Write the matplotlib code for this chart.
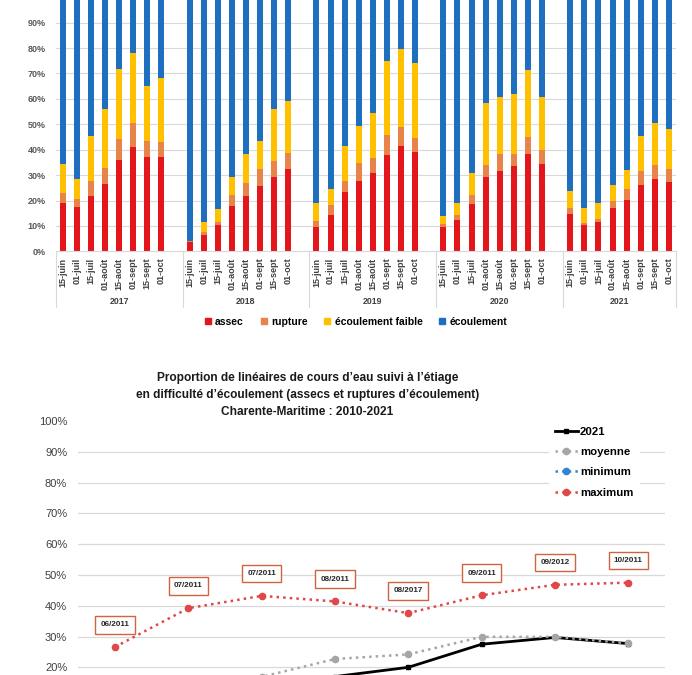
import matplotlib
matplotlib.use("Agg")
import matplotlib.pyplot as plt
import matplotlib.transforms as mtransforms
from matplotlib.patches import Patch
import numpy as np

plt.rcParams["font.family"] = ["Liberation Sans", "DejaVu Sans"]

# --- top chart: stacked bars, one group of 8 dates per year ---
years = ["2017", "2018", "2019", "2020", "2021"]
dates = ["15-juin", "01-juil", "15-juil", "01-août", "15-août", "01-sept", "15-sept", "01-oct"]

assec = [
    [19.2, 17.3, 21.7, 26.5, 36.1, 41.1, 37.3, 37.0],
    [3.5, 6.3, 10.5, 18.0, 21.9, 25.9, 29.4, 32.4],
    [9.7, 14.3, 23.4, 27.8, 30.7, 38.1, 41.5, 39.0],
    [9.4, 12.3, 18.6, 29.3, 31.5, 33.6, 38.3, 34.3],
    [14.7, 10.4, 11.7, 17.2, 20.2, 26.1, 28.3, 27.3],
]
rupture = [
    [3.9, 3.3, 6.0, 6.4, 8.0, 9.4, 6.0, 6.0],
    [0.6, 1.4, 0.9, 4.2, 5.0, 6.4, 6.0, 6.4],
    [2.2, 3.8, 4.3, 7.1, 5.9, 7.8, 7.6, 5.8],
    [1.2, 2.0, 3.6, 4.7, 6.8, 4.7, 6.8, 5.5],
    [2.4, 0.8, 1.2, 2.6, 4.3, 5.5, 5.7, 5.0],
]
faible = [
    [11.3, 7.9, 17.6, 23.0, 27.8, 27.7, 21.7, 25.1],
    [0.1, 3.8, 5.1, 6.9, 11.3, 11.3, 20.6, 20.3],
    [7.3, 6.6, 13.8, 14.4, 18.0, 29.2, 30.4, 29.2],
    [3.3, 4.9, 8.5, 24.4, 22.5, 23.8, 26.3, 21.0],
    [6.7, 5.9, 6.3, 6.2, 7.5, 13.8, 16.4, 15.9],
]

# --- bottom chart: share of watercourse length in difficulty ---
line_2021 = [13.0, 10.5, 12.5, 17.0, 20.0, 27.5, 29.7, 27.7]
moyenne = [8.0, 12.0, 16.9, 22.7, 24.2, 29.9, 29.9, 27.8]
minimum = [2.0, 4.0, 6.0, 8.0, 9.0, 10.0, 11.0, 11.0]
maximum = [26.6, 39.2, 43.2, 41.4, 37.6, 43.4, 46.8, 47.5]
max_labels = ["06/2011", "07/2011", "07/2011", "08/2011", "08/2017", "09/2011", "09/2012", "10/2011"]

C_ASSEC = "#E3161C"
C_RUPT = "#E8844A"
C_FAIB = "#FFC000"
C_ECOU = "#1F6FC0"
GRID = "#D9D9D9"

W, H = 692, 675
fig = plt.figure(figsize=(W / 100, H / 100), dpi=100)

# top axes (y=0% at 251 px, 100% just above the top edge)
ax1 = fig.add_axes([55.6 / W, (H - 251.3) / H, 620.4 / W, 254 / H])
slot = 9
xs, xlabels = [], []
for g in range(len(years)):
    for i in range(len(dates)):
        xs.append(g * slot + i)
        xlabels.append(dates[i])
xs = np.array(xs)
a = np.concatenate([np.array(v) for v in assec])
r = np.concatenate([np.array(v) for v in rupture])
f = np.concatenate([np.array(v) for v in faible])
e = 100 - a - r - f
bw = 0.43
ax1.bar(xs, a, bw, color=C_ASSEC, label="assec")
ax1.bar(xs, r, bw, bottom=a, color=C_RUPT, label="rupture")
ax1.bar(xs, f, bw, bottom=a + r, color=C_FAIB, label="écoulement faible")
ax1.bar(xs, e, bw, bottom=a + r + f, color=C_ECOU, label="écoulement")

ax1.set_xlim(-0.5, xs[-1] + 0.5)
ax1.set_ylim(0, 100)
ax1.set_yticks(np.arange(0, 91, 10))
ax1.set_yticklabels([f"{v}%" for v in range(0, 91, 10)])
ax1.set_axisbelow(True)
ax1.yaxis.grid(True, color=GRID, lw=0.8)
ax1.tick_params(axis="y", length=0, pad=7, labelsize=6.5, labelcolor="#595959")
for lab in ax1.get_yticklabels():
    lab.set_fontweight("bold")
ax1.set_xticks(xs)
ax1.set_xticklabels(xlabels, rotation=90, fontsize=6.5, fontweight="bold", color="#404040")
ax1.tick_params(axis="x", length=0, pad=4.5)
for s in ["top", "right", "left"]:
    ax1.spines[s].set_visible(False)
ax1.spines["bottom"].set_color(GRID)

trans = mtransforms.blended_transform_factory(ax1.transData, ax1.transAxes)
seps = [g * slot - 0.5 for g in range(len(years))] + [xs[-1] + 0.5]
for sx in seps:
    ax1.plot([sx, sx], [0, -0.219], transform=trans, color=GRID, lw=0.8, clip_on=False)
for g, yr in enumerate(years):
    gx = (seps[g] + seps[g + 1]) / 2
    ax1.text(gx, -0.196, yr, transform=trans, ha="center", va="center",
             fontsize=6.3, fontweight="bold", color="#404040")

handles = [Patch(color=c) for c in [C_ASSEC, C_RUPT, C_FAIB, C_ECOU]]
fig.legend(handles, ["assec", "rupture", "écoulement faible", "écoulement"],
           loc="center", bbox_to_anchor=(356 / W, 1 - 321.7 / H), ncol=4,
           frameon=False, handlelength=0.6, handleheight=0.6, handletextpad=0.4,
           columnspacing=1.6, prop={"size": 7.5, "weight": "bold"})

# bottom title
title_lines = [
    "Proportion de linéaires de cours d\u2019eau suivi à l\u2019étiage",
    "en difficulté d\u2019écoulement (assecs et ruptures d\u2019écoulement)",
    "Charente-Maritime : 2010-2021",
]
for k, t in enumerate(title_lines):
    fig.text(307.5 / W, 1 - (378.3 + 16.7 * k) / H, t, ha="center", va="center",
             fontsize=8.6, fontweight="bold", color="#1a1a1a")

# bottom axes (100% at 421 px, 20% at 667 px, rest cut off)
ax2 = fig.add_axes([78.3 / W, (H - 728.9) / H, 586.7 / W, (728.9 - 421) / H])
px = np.arange(len(maximum))
ax2.plot(px, line_2021, color="black", lw=2, marker="s", ms=3.5, zorder=3, label="2021")
ax2.plot(px, moyenne, color="#A6A6A6", lw=1.8, ls=":", marker="o", ms=4.5, zorder=4, label="moyenne")
ax2.plot(px, minimum, color="#2F86D0", lw=1.8, ls=":", marker="o", ms=4.5, zorder=4, label="minimum")
ax2.plot(px, maximum, color="#E04848", lw=1.8, ls=":", marker="o", ms=4.5, zorder=4, label="maximum")
for xi, yi, lab in zip(px, maximum, max_labels):
    ax2.annotate(lab, (xi, yi), xytext=(0, 16), textcoords="offset points",
                 ha="center", va="center", fontsize=5.8, fontweight="bold", color="#262626",
                 bbox=dict(boxstyle="square,pad=0.65", fc="white", ec="#D0643F", lw=1.0))
ax2.set_xlim(-0.5, len(maximum) - 0.5)
ax2.set_ylim(0, 100)
ax2.set_yticks(np.arange(20, 101, 10))
ax2.set_yticklabels([f"{v}%" for v in range(20, 101, 10)])
ax2.tick_params(axis="y", length=0, pad=8, labelsize=8, labelcolor="#404040")
ax2.set_xticks([])
for yv in range(10, 100, 10):
    ax2.axhline(yv, color=GRID, lw=0.9, zorder=0)
for s in ax2.spines.values():
    s.set_visible(False)

leg = ax2.legend(loc="upper left", bbox_to_anchor=(543 / W, 1 - 415 / H),
                 bbox_transform=fig.transFigure, frameon=True, facecolor="white",
                 edgecolor="none", framealpha=1, fancybox=False, borderpad=0.55,
                 handlelength=2.0, handletextpad=0.2, labelspacing=0.9,
                 prop={"size": 8.2, "weight": "bold"})
leg.set_zorder(5)

fig.savefig("out.png", dpi=100)
